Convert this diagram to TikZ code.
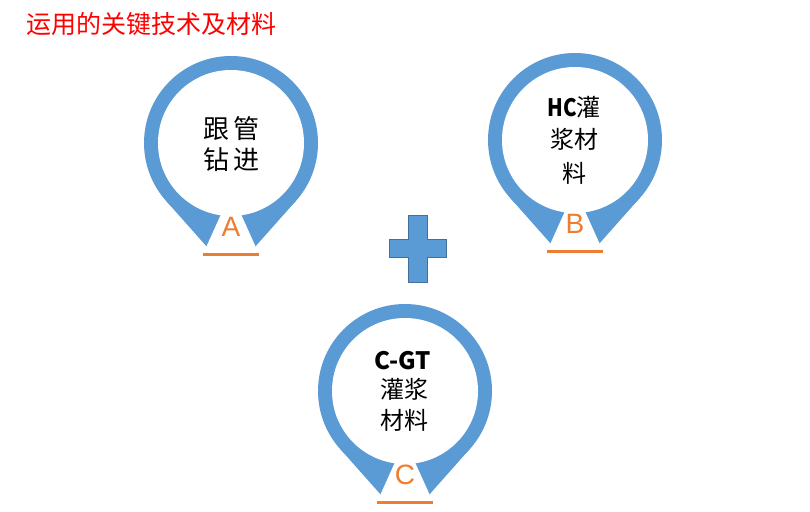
\documentclass[tikz,border=0pt]{standalone}
\usepackage{fontspec}
\setmainfont{Liberation Sans}
\newfontfamily\cjkfont{Noto Sans CJK SC}
\newfontfamily\letterfont{Liberation Sans}
\definecolor{pinblue}{HTML}{5B9BD5}
\definecolor{plusedge}{HTML}{41719C}
\definecolor{pinorange}{HTML}{ED7D31}
\definecolor{titlered}{HTML}{FF0000}
\tikzset{
  ringfill/.style={fill=pinblue},
  underline/.style={draw=pinorange, line width=3pt},
  pinletter/.style={inner sep=0pt, text=pinorange, font=\letterfont\fontsize{28}{28}\selectfont},
  bigcjk/.style={inner sep=0pt, anchor=base, font=\cjkfont\fontsize{26}{26}\selectfont},
  smallcjk/.style={inner sep=0pt, anchor=base, font=\cjkfont\fontsize{24}{24}\selectfont},
  plusshape/.style={fill=pinblue, draw=plusedge, line width=1pt},
}
\newcommand{\mypin}[4]{%
  \begin{scope}[shift={(#1,#2)}]
    \fill[ringfill] (0,0) circle[radius=87pt];
    \fill[ringfill] (0,131) -- (-65,57.7) -- (0,0) -- (65,57.7) -- cycle;
    \fill[white] (0,0) circle[radius=73pt];
    \fill[white] (0,49) -- (-41,140) -- (41,140) -- cycle;
    \draw[underline] (-28,111) -- (28,111);
    \node[pinletter] (#4) at (0,84) {#3};
  \end{scope}}
\begin{document}
\begin{tikzpicture}[x=1pt,y=-1pt]
  \fill[white] (0,0) rectangle (810,511);
  \useasboundingbox (0,0) rectangle (810,511);
  % title
  \node[inner sep=0pt, anchor=base west, text=titlered, font=\cjkfont\fontsize{25}{25}\selectfont] (title) at (26,34) {运用的关键技术及材料};
  % pins
  \mypin{231}{143}{A}{letA}
  \mypin{575}{140}{B}{letB}
  \mypin{405}{391}{C}{letC}
  % texts A
  \node[bigcjk] (a1) at (231.5,138) {跟\hspace{4pt}管};
  \node[bigcjk] (a2) at (231.5,169) {钻\hspace{4pt}进};
  % texts B
  \node[smallcjk] (b1) at (574,116) {\scalebox{0.85}[1]{\bfseries HC}灌};
  \node[smallcjk] (b2) at (574,148) {浆材};
  \node[smallcjk] (b3) at (574,182) {料};
  % texts C
  \node[smallcjk] (c1) at (403,369) {\bfseries C-GT};
  \node[smallcjk] (c2) at (404,398) {灌浆};
  \node[smallcjk] (c3) at (404,429) {材料};
  % plus
  \path[plusshape] (408,215) -- (427,215) -- (427,239) -- (446,239) -- (446,257) -- (427,257) -- (427,282) -- (408,282) -- (408,257) -- (389,257) -- (389,239) -- (408,239) -- cycle;
\end{tikzpicture}
\end{document}
